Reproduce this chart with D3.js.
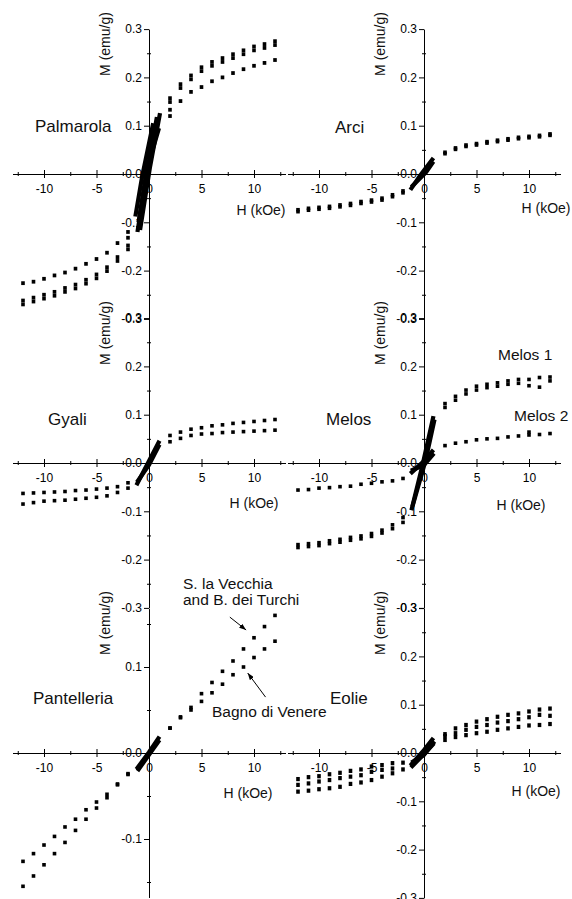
<!DOCTYPE html>
<html>
<head>
<meta charset="utf-8">
<script src="https://cdn.jsdelivr.net/npm/d3@7"></script>
<style>
  body { margin: 0; background: #fff; }
  svg { display: block; font-family: "Liberation Sans", Arial, sans-serif; }
</style>
</head>
<body>
<div id="root"></div>
<script>
const width = 572;
const height = 899;

// applied field (kOe) of the measured points outside the dense central part
const fieldSteps = [-12, -11, -10, -9, -8, -7, -6, -5, -4, -3, -2, 2, 3, 4, 5, 6, 7, 8, 9, 10, 11, 12];

// magnetisation (emu/g) at each fieldSteps value, one array per branch
const palmarolaUpperA = [-0.262, -0.256, -0.250, -0.244, -0.236, -0.229, -0.219, -0.208, -0.193, -0.172, -0.148, 0.157, 0.186, 0.204, 0.221, 0.232, 0.240, 0.248, 0.256, 0.264, 0.269, 0.275];
const palmarolaUpperB = [-0.270, -0.264, -0.258, -0.252, -0.244, -0.237, -0.227, -0.216, -0.201, -0.180, -0.156, 0.149, 0.178, 0.196, 0.213, 0.224, 0.232, 0.240, 0.248, 0.256, 0.261, 0.267];
const palmarolaLower = [-0.226, -0.223, -0.217, -0.210, -0.204, -0.196, -0.186, -0.176, -0.163, -0.143, -0.120, 0.120, 0.151, 0.170, 0.180, 0.192, 0.200, 0.209, 0.217, 0.224, 0.230, 0.236];
const palmarolaLowerB = [null, null, null, null, null, null, null, null, null, null, -0.132, 0.133, null, null, null, null, null, null, null, null, null, null];

const arciA = [-0.074, -0.071, -0.069, -0.067, -0.064, -0.061, -0.057, -0.054, -0.050, -0.043, -0.035, 0.045, 0.054, 0.060, 0.063, 0.067, 0.070, 0.073, 0.076, 0.078, 0.080, 0.083];
const arciB = [-0.078, -0.075, -0.073, -0.071, -0.068, -0.065, -0.061, -0.058, -0.054, -0.047, -0.039, 0.042, 0.051, 0.057, 0.060, 0.064, 0.067, 0.070, 0.073, 0.075, 0.077, 0.080];

const gyaliHigh = [-0.085, -0.082, -0.079, -0.078, -0.077, -0.075, -0.073, -0.071, -0.068, -0.061, -0.052, 0.057, 0.064, 0.070, 0.073, 0.077, 0.079, 0.082, 0.084, 0.086, 0.088, 0.090];
const gyaliLow = [-0.063, -0.062, -0.061, -0.060, -0.059, -0.057, -0.056, -0.054, -0.052, -0.049, -0.041, 0.044, 0.051, 0.057, 0.060, 0.061, 0.063, 0.064, 0.065, 0.066, 0.067, 0.068];

const melos1A = [-0.169, -0.167, -0.165, -0.161, -0.158, -0.154, -0.151, -0.146, -0.139, -0.128, -0.113, 0.123, 0.138, 0.151, 0.159, 0.163, 0.166, 0.170, 0.173, 0.173, 0.177, 0.178];
const melos1B = [-0.175, -0.173, -0.171, -0.167, -0.164, -0.160, -0.157, -0.152, -0.145, -0.136, -0.123, 0.115, 0.130, 0.143, 0.151, 0.156, 0.159, 0.163, 0.165, 0.160, 0.157, 0.170];
const melos2A = [-0.056, -0.055, -0.052, -0.051, -0.049, -0.048, -0.044, -0.042, -0.039, -0.037, -0.032, 0.036, 0.041, 0.044, 0.048, 0.050, 0.051, 0.054, 0.056, 0.058, 0.059, 0.061];
const melos2B = [null, null, null, null, null, null, null, null, null, null, null, null, null, null, null, null, null, null, null, 0.064, null, null];

const vecchiaTurchi = [-0.155, -0.143, -0.130, -0.117, -0.104, -0.090, -0.077, -0.064, -0.052, -0.037, -0.025, 0.029, 0.042, 0.053, 0.069, 0.082, 0.095, 0.107, 0.121, 0.134, 0.147, 0.160];
const bagnoVenere = [-0.126, -0.117, -0.107, -0.097, -0.086, -0.077, -0.066, -0.057, -0.048, -0.036, -0.024, 0.029, 0.041, 0.050, 0.060, 0.070, 0.080, 0.091, 0.100, 0.111, 0.121, 0.130];

const eolieA = [-0.054, -0.050, -0.048, -0.044, -0.041, -0.037, -0.034, -0.028, -0.025, -0.021, -0.020, 0.039, 0.051, 0.058, 0.065, 0.070, 0.075, 0.079, 0.082, 0.086, 0.090, 0.092];
const eolieB = [-0.066, -0.063, -0.059, -0.056, -0.052, -0.049, -0.046, -0.039, -0.035, -0.032, -0.034, 0.035, 0.041, 0.048, 0.054, 0.058, 0.063, 0.066, 0.070, 0.074, 0.079, 0.077];
const eolieC = [-0.080, -0.078, -0.075, -0.073, -0.070, -0.064, -0.061, -0.056, -0.049, -0.042, null, 0.027, 0.033, 0.037, 0.041, 0.044, 0.048, 0.051, 0.054, 0.057, 0.058, 0.060];

// dense central part of the loops, [H, M]
const palmarolaLoopA1 = [[-0.85, -0.116], [0.1, 0.015], [1.05, 0.126]];
const palmarolaLoopA2 = [[-1.3, -0.088], [-0.65, -0.005], [0.4, 0.105]];
const palmarolaLoopB1 = [[-1.1, -0.120], [-0.3, -0.010], [0.75, 0.118]];
const palmarolaLoopB2 = [[-1.0, -0.100], [-0.2, 0.010], [0.95, 0.095]];
const arciLoop1 = [[-1.3, -0.033], [-0.4, -0.004], [0.9, 0.033]];
const arciLoop2 = [[-1.2, -0.027], [0.2, 0.004], [0.9, 0.026]];
const gyaliLoop1 = [[-1.2, -0.046], [0, 0.004], [1.0, 0.046]];
const gyaliLoop2 = [[-1.15, -0.040], [0, -0.004], [1.0, 0.038]];
const melosLoop1A = [[-1.2, -0.098], [-0.15, -0.005], [0.9, 0.097]];
const melosLoop1B = [[-1.1, -0.090], [0.15, 0.005], [1.0, 0.090]];
const melosLoop2A = [[-1.3, -0.022], [0, 0.004], [0.9, 0.027]];
const melosLoop2B = [[-1.25, -0.016], [0, -0.004], [0.95, 0.020]];
const pantelleriaLoop1 = [[-1.2, -0.019], [0, 0.001], [1.0, 0.019]];
const pantelleriaLoop2 = [[-1.1, -0.021], [0, -0.002], [1.0, 0.015]];
const eolieLoop1 = [[-1.3, -0.026], [0, 0.006], [0.9, 0.031]];
const eolieLoop2 = [[-1.2, -0.020], [0, -0.004], [1.0, 0.024]];
const eolieLoop3 = [[-1.25, -0.030], [0.1, 0.000], [0.95, 0.020]];

// tick values
const xMajor = [-10, -5, 0, 5, 10];
const xMinor = [-12.5, -7.5, -2.5, 2.5, 7.5, 12.5];
const yMajor = [0.3, 0.2, 0.1, 0, -0.1, -0.2, -0.3];
const yMinor = [0.25, 0.15, 0.05, -0.05, -0.15, -0.25];
const yMajorPantelleria = [0.1, 0, -0.1];
const yMinorPantelleria = [0.15, 0.05, -0.05, -0.15];

const pxPerKOe = 10.5;

const panels = [
    { name: "Palmarola", x0: 149, y0: 174, yDomain: [-0.3, 0.3], pxPerUnit: 483, yMajor, yMinor,
      series: [palmarolaUpperA, palmarolaUpperB, palmarolaLower, palmarolaLowerB], markH: 3.8,
      loops: [palmarolaLoopA1, palmarolaLoopA2, palmarolaLoopB1, palmarolaLoopB2],
      namePos: [35, 126], hTitle: [112, 36] },
    { name: "Arci", x0: 424, y0: 174, yDomain: [-0.3, 0.3], pxPerUnit: 483, yMajor, yMinor,
      series: [arciA, arciB], markH: 3.6,
      loops: [arciLoop1, arciLoop2],
      namePos: [335, 127], hTitle: [122, 34] },
    { name: "Gyali", x0: 149, y0: 463, yDomain: [-0.3, 0.3], pxPerUnit: 483, yMajor, yMinor,
      series: [gyaliHigh, gyaliLow], markH: 3.6,
      loops: [gyaliLoop1, gyaliLoop2],
      namePos: [48, 419], hTitle: [105, 40] },
    { name: "Melos", x0: 424, y0: 463, yDomain: [-0.3, 0.3], pxPerUnit: 483, yMajor, yMinor,
      series: [melos1A, melos1B, melos2A, melos2B], markH: 3.6,
      loops: [melosLoop1A, melosLoop1B, melosLoop2A, melosLoop2B],
      namePos: [326, 419], hTitle: [97, 42] },
    { name: "Pantelleria", x0: 149, y0: 753, yDomain: [-0.168, 0.168], pxPerUnit: 860,
      yMajor: yMajorPantelleria, yMinor: yMinorPantelleria,
      series: [vecchiaTurchi, bagnoVenere], markH: 3.6,
      loops: [pantelleriaLoop1, pantelleriaLoop2],
      namePos: [33, 698], hTitle: [99, 40] },
    { name: "Eolie", x0: 424, y0: 753, yDomain: [-0.3, 0.3], pxPerUnit: 483, yMajor, yMinor,
      series: [eolieA, eolieB, eolieC], markH: 4.2,
      loops: [eolieLoop1, eolieLoop2, eolieLoop3],
      namePos: [330, 698], hTitle: [112, 38] },
];

// smaller sample labels
const notes = [
    { text: "Melos 1", x: 498, y: 355 },
    { text: "Melos 2", x: 514, y: 416 },
    { text: "S. la Vecchia", x: 183, y: 584 },
    { text: "and B. dei Turchi", x: 183, y: 600 },
    { text: "Bagno di Venere", x: 212, y: 712 },
];

// arrows in the Pantelleria panel, [H, M] from -> to
const arrows = [
    { from: [7.7, 0.158], to: [9.25, 0.143] },
    { from: [11.1, 0.065], to: [9.4, 0.093] },
];

const svg = d3.select("#root")
    .append("svg")
    .attr("width", width)
    .attr("height", height);

svg.append("defs")
    .append("marker")
    .attr("id", "arrow")
    .attr("viewBox", "0 0 7 5")
    .attr("refX", 7)
    .attr("refY", 2.5)
    .attr("markerWidth", 7)
    .attr("markerHeight", 5)
    .attr("markerUnits", "userSpaceOnUse")
    .attr("orient", "auto")
    .append("path")
    .attr("d", "M0,0L7,2.5L0,5Z")
    .attr("fill", "#000");

const axisLayer = svg.append("g");
const markLayer = svg.append("g");
const textLayer = svg.append("g").attr("fill", "#111");

panels.forEach(p => {
    const x = d3.scaleLinear()
        .domain([-13, 13])
        .range([p.x0 - 13 * pxPerKOe, p.x0 + 13 * pxPerKOe]);
    const y = d3.scaleLinear()
        .domain(p.yDomain)
        .range(p.yDomain.map(v => p.y0 - v * p.pxPerUnit));
    p.x = x;
    p.y = y;

    // x axis, ticks crossing the line
    const xa = axisLayer.append("g")
        .attr("transform", `translate(0,${p.y0})`)
        .call(d3.axisBottom(x).tickValues(xMajor).tickSize(4).tickSizeOuter(0).tickPadding(6).tickFormat(d => d))
        .attr("font-size", 12)
        .attr("font-family", null);
    xa.selectAll(".tick line").attr("y1", -4);
    axisLayer.append("g")
        .attr("transform", `translate(0,${p.y0})`)
        .call(d3.axisBottom(x).tickValues(xMinor).tickSize(2).tickFormat(""))
        .call(a => a.select(".domain").remove())
        .selectAll(".tick line").attr("y1", -2);

    // y axis
    axisLayer.append("g")
        .attr("transform", `translate(${p.x0},0)`)
        .call(d3.axisLeft(y).tickValues(p.yMajor).tickSize(5).tickSizeOuter(0).tickPadding(2).tickFormat(d => d.toFixed(1)))
        .attr("font-size", 12)
        .attr("font-family", null);
    axisLayer.append("g")
        .attr("transform", `translate(${p.x0},0)`)
        .call(d3.axisLeft(y).tickValues(p.yMinor).tickSize(2).tickFormat(""))
        .call(a => a.select(".domain").remove())
        .selectAll(".tick line").attr("x1", 2);

    // measured points
    p.series.forEach(s => {
        const pts = fieldSteps.map((h, i) => [h, s[i]]).filter(d => d[1] != null);
        markLayer.selectAll(null)
            .data(pts)
            .join("rect")
            .attr("x", d => x(d[0]) - 1.8)
            .attr("y", d => y(d[1]) - p.markH / 2)
            .attr("width", 3.6)
            .attr("height", p.markH)
            .attr("fill", "#000");
    });

    // dense central loop
    const line = d3.line().x(d => x(d[0])).y(d => y(d[1]));
    markLayer.selectAll(null)
        .data(p.loops)
        .join("path")
        .attr("d", line)
        .attr("fill", "none")
        .attr("stroke", "#000")
        .attr("stroke-width", 4.2);

    // axis titles and panel name
    textLayer.append("text")
        .attr("transform", `translate(${p.x0 - 44},${p.y0 - 130}) rotate(-90)`)
        .attr("text-anchor", "middle")
        .attr("dy", "0.35em")
        .attr("font-size", 14)
        .text("M (emu/g)");
    textLayer.append("text")
        .attr("x", p.x0 + p.hTitle[0])
        .attr("y", p.y0 + p.hTitle[1])
        .attr("text-anchor", "middle")
        .attr("dy", "0.35em")
        .attr("font-size", 14)
        .text("H (kOe)");
    textLayer.append("text")
        .attr("x", p.namePos[0])
        .attr("y", p.namePos[1])
        .attr("dy", "0.35em")
        .attr("font-size", 17)
        .text(p.name);
});

textLayer.selectAll(null)
    .data(notes)
    .join("text")
    .attr("x", d => d.x)
    .attr("y", d => d.y)
    .attr("dy", "0.35em")
    .attr("font-size", 15.5)
    .text(d => d.text);

const pant = panels[4];
markLayer.selectAll(null)
    .data(arrows)
    .join("line")
    .attr("x1", d => pant.x(d.from[0]))
    .attr("y1", d => pant.y(d.from[1]))
    .attr("x2", d => pant.x(d.to[0]))
    .attr("y2", d => pant.y(d.to[1]))
    .attr("stroke", "#000")
    .attr("stroke-width", 1)
    .attr("marker-end", "url(#arrow)");
</script>
</body>
</html>
